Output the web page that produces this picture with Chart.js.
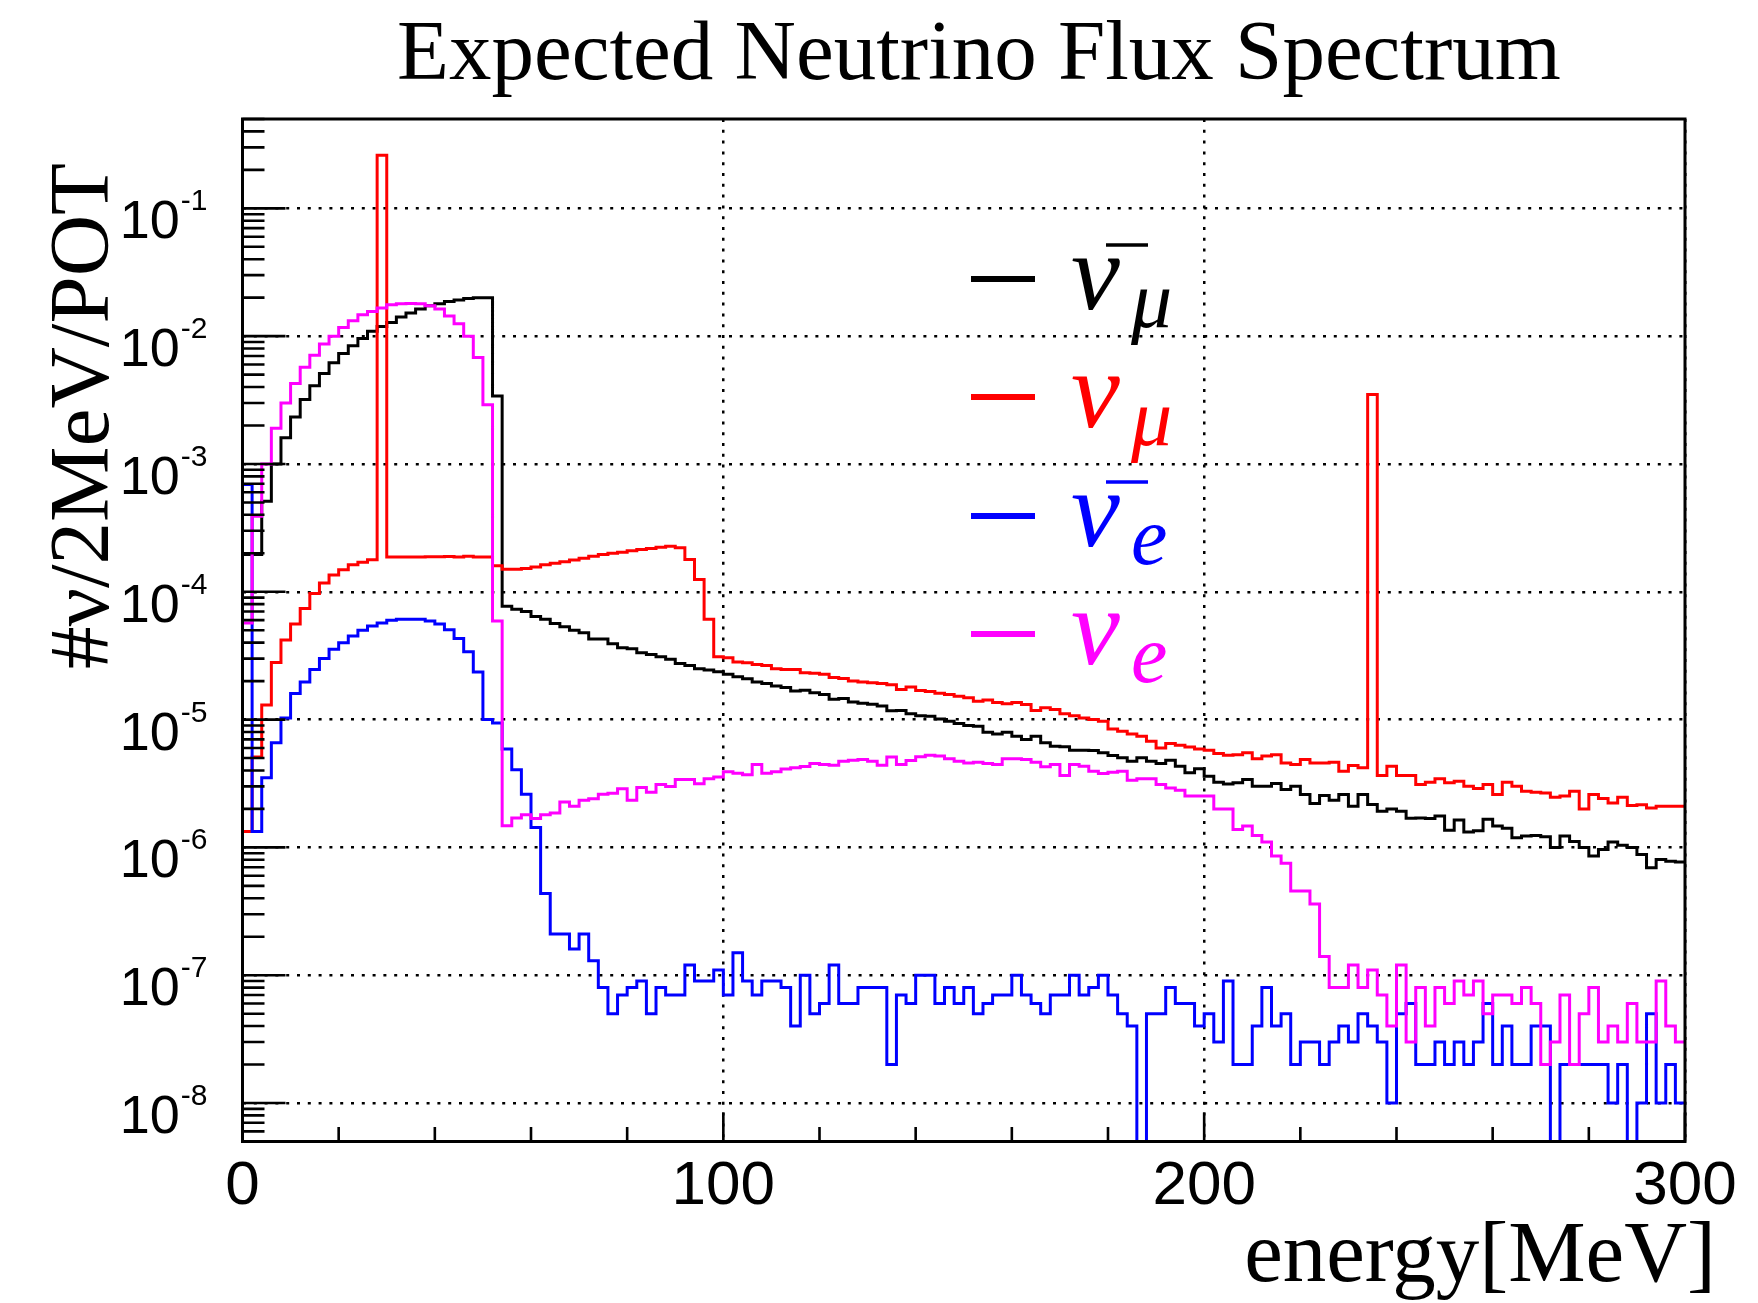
<!DOCTYPE html>
<html>
<head>
<meta charset="utf-8">
<script src="https://cdn.jsdelivr.net/npm/chart.js@4.4.0/dist/chart.umd.min.js"></script>
<style>
html,body{margin:0;padding:0;background:#ffffff;}
canvas{display:block;}
</style>
</head>
<body>
<canvas id="c" width="1758" height="1303"></canvas>
<script>
// ---------------- data ----------------
const binWidth = 2; // MeV per bin, bins start at 0 MeV
const chartTitle = 'Expected Neutrino Flux Spectrum';
const xAxisTitle = 'energy[MeV]';
const yAxisTitle = '#\u03BD/2MeV/POT';
const xTickValues = [0, 100, 200, 300];
const yTickExponents = [-8, -7, -6, -5, -4, -3, -2, -1];
const yMin = 5e-9;
const yMax = 0.5;

const seriesLabels = ['\u03BD\u0304\u03BC', '\u03BD\u03BC', '\u03BD\u0304e', '\u03BDe'];
const seriesSub = ['\u03BC', '\u03BC', 'e', 'e'];
const seriesBar = [true, false, true, false];
const seriesColors = ['#000000', '#ff0000', '#0000ff', '#ff00ff'];

// anti nu_mu (black)
const numuBar = [
 1.96e-4, 1.96e-4, 5.1e-4, 1.0e-3, 1.6e-3, 2.33e-3, 3.2e-3, 4.1e-3, 5.1e-3, 6.2e-3,
 7.3e-3, 8.4e-3, 9.6e-3, 1.09e-2, 1.19e-2, 1.28e-2, 1.41e-2, 1.52e-2, 1.63e-2, 1.73e-2,
 1.79e-2, 1.87e-2, 1.92e-2, 1.97e-2, 2.0e-2, 2.0e-2, 3.4e-3, 7.7e-5, 7.3e-5, 7.0e-5,
 6.4e-5, 6.1e-5, 5.65e-5, 5.32e-5, 5.0e-5, 4.78e-5, 4.28e-5, 4.28e-5, 3.92e-5, 3.65e-5,
 3.58e-5, 3.33e-5, 3.23e-5, 3.1e-5, 2.96e-5, 2.75e-5, 2.65e-5, 2.5e-5, 2.44e-5, 2.37e-5,
 2.26e-5, 2.16e-5, 2.09e-5, 1.97e-5, 1.92e-5, 1.83e-5, 1.78e-5, 1.67e-5, 1.7e-5, 1.62e-5,
 1.57e-5, 1.44e-5, 1.46e-5, 1.37e-5, 1.34e-5, 1.32e-5, 1.28e-5, 1.17e-5, 1.18e-5, 1.11e-5,
 1.07e-5, 1.06e-5, 1.01e-5, 9.7e-6, 9.3e-6, 8.98e-6, 8.87e-6, 7.96e-6, 7.73e-6, 7.96e-6,
 7.41e-6, 6.98e-6, 7.41e-6, 6.58e-6, 6.19e-6, 6.12e-6, 5.75e-6, 5.75e-6, 5.72e-6, 5.5e-6,
 5.23e-6, 5.02e-6, 4.72e-6, 5.02e-6, 4.72e-6, 4.53e-6, 4.81e-6, 4.32e-6, 3.83e-6, 4.12e-6,
 3.61e-6, 3.24e-6, 3.14e-6, 3.2e-6, 3.4e-6, 3.01e-6, 3.01e-6, 3.16e-6, 2.84e-6, 3.01e-6,
 2.59e-6, 2.21e-6, 2.55e-6, 2.34e-6, 2.59e-6, 2.1e-6, 2.59e-6, 2.17e-6, 1.92e-6, 2.0e-6,
 1.92e-6, 1.69e-6, 1.7e-6, 1.68e-6, 1.76e-6, 1.36e-6, 1.64e-6, 1.32e-6, 1.35e-6, 1.66e-6,
 1.47e-6, 1.41e-6, 1.19e-6, 1.23e-6, 1.24e-6, 1.21e-6, 1.0e-6, 1.23e-6, 1.11e-6, 1.0e-6,
 8.55e-7, 9.64e-7, 1.1e-6, 1.04e-6, 1.0e-6, 8.8e-7, 6.93e-7, 8.05e-7, 7.8e-7, 7.67e-7
];

// nu_mu (red)
const numu = [
 1.33e-6, 5.1e-6, 1.3e-5, 2.8e-5, 4.2e-5, 5.6e-5, 7.4e-5, 9.7e-5, 1.17e-4, 1.35e-4,
 1.49e-4, 1.63e-4, 1.7e-4, 1.78e-4, 0.26, 1.87e-4, 1.87e-4, 1.87e-4, 1.87e-4, 1.88e-4,
 1.88e-4, 1.89e-4, 1.87e-4, 1.9e-4, 1.87e-4, 1.87e-4, 1.6e-4, 1.5e-4, 1.5e-4, 1.52e-4,
 1.56e-4, 1.63e-4, 1.67e-4, 1.72e-4, 1.77e-4, 1.83e-4, 1.9e-4, 1.96e-4, 2.0e-4, 2.04e-4,
 2.09e-4, 2.14e-4, 2.18e-4, 2.23e-4, 2.27e-4, 2.21e-4, 1.79e-4, 1.25e-4, 6.1e-5, 3.1e-5,
 3.05e-5, 2.82e-5, 2.79e-5, 2.7e-5, 2.65e-5, 2.5e-5, 2.46e-5, 2.46e-5, 2.32e-5, 2.3e-5,
 2.26e-5, 2.13e-5, 2.1e-5, 2.0e-5, 1.97e-5, 1.94e-5, 1.92e-5, 1.87e-5, 1.72e-5, 1.8e-5,
 1.69e-5, 1.66e-5, 1.61e-5, 1.57e-5, 1.52e-5, 1.48e-5, 1.39e-5, 1.42e-5, 1.36e-5, 1.33e-5,
 1.36e-5, 1.31e-5, 1.18e-5, 1.24e-5, 1.2e-5, 1.11e-5, 1.07e-5, 1.03e-5, 1.0e-5, 9.7e-6,
 8.45e-6, 8.1e-6, 7.73e-6, 7.41e-6, 6.78e-6, 6.0e-6, 6.5e-6, 6.3e-6, 6.1e-6, 5.9e-6,
 5.75e-6, 5.42e-6, 5.26e-6, 5.3e-6, 5.5e-6, 4.93e-6, 5.18e-6, 5.3e-6, 4.58e-6, 4.45e-6,
 4.87e-6, 4.58e-6, 4.58e-6, 4.63e-6, 3.95e-6, 4.37e-6, 4.19e-6, 3.5e-3, 3.65e-6, 4.32e-6,
 3.65e-6, 3.65e-6, 3.1e-6, 3.24e-6, 3.44e-6, 3.2e-6, 3.3e-6, 3.01e-6, 2.89e-6, 3.1e-6,
 2.59e-6, 3.24e-6, 3.01e-6, 2.75e-6, 2.7e-6, 2.67e-6, 2.47e-6, 2.52e-6, 2.75e-6, 2.0e-6,
 2.59e-6, 2.41e-6, 2.23e-6, 2.47e-6, 2.13e-6, 2.16e-6, 2.03e-6, 2.1e-6, 2.1e-6, 2.1e-6
];

// anti nu_e (blue)
const nueBar = [
 6.9e-4, 1.33e-6, 3.5e-6, 6.6e-6, 1.03e-5, 1.6e-5, 1.97e-5, 2.46e-5, 3.0e-5, 3.55e-5,
 4.0e-5, 4.5e-5, 5.0e-5, 5.4e-5, 5.7e-5, 6.0e-5, 6.1e-5, 6.1e-5, 6.1e-5, 5.9e-5,
 5.6e-5, 5.05e-5, 4.3e-5, 3.4e-5, 2.36e-5, 1.0e-5, 9.4e-6, 5.9e-6, 4.05e-6, 2.6e-6,
 1.43e-6, 4.35e-7, 2.1e-7, 2.1e-7, 1.6e-7, 2.1e-7, 1.3e-7, 8e-8, 5e-8, 7e-8,
 8e-8, 9e-8, 5e-8, 8e-8, 7e-8, 7e-8, 1.2e-7, 9e-8, 9e-8, 1.1e-7,
 7e-8, 1.5e-7, 9e-8, 7e-8, 9e-8, 9e-8, 8e-8, 4e-8, 1e-7, 5e-8,
 6e-8, 1.2e-7, 6e-8, 6e-8, 8e-8, 8e-8, 8e-8, 2e-8, 7e-8, 6e-8,
 1e-7, 1e-7, 6e-8, 8e-8, 6e-8, 8e-8, 5e-8, 6e-8, 7e-8, 7e-8,
 1e-7, 7e-8, 6e-8, 5e-8, 7e-8, 7e-8, 1e-7, 7e-8, 8e-8, 1e-7,
 7e-8, 5e-8, 4e-8, 0, 5e-8, 5e-8, 8e-8, 6e-8, 6e-8, 4e-8,
 5e-8, 3e-8, 9e-8, 2e-8, 2e-8, 4e-8, 8e-8, 4e-8, 5e-8, 2e-8,
 3e-8, 3e-8, 2e-8, 3e-8, 4e-8, 3e-8, 5e-8, 4e-8, 3e-8, 1e-8,
 5e-8, 6e-8, 2e-8, 2e-8, 3e-8, 2e-8, 3e-8, 2e-8, 3e-8, 6e-8,
 2e-8, 4e-8, 2e-8, 2e-8, 4e-8, 4e-8, 0, 2e-8, 2e-8, 2e-8,
 2e-8, 2e-8, 1e-8, 2e-8, 0, 1e-8, 5e-8, 1e-8, 2e-8, 1e-8
];

// nu_e (magenta)
const nue = [
 5.7e-5, 3.9e-4, 1.0e-3, 1.9e-3, 3.0e-3, 4.26e-3, 5.7e-3, 7.1e-3, 8.7e-3, 1.0e-2,
 1.17e-2, 1.32e-2, 1.47e-2, 1.56e-2, 1.66e-2, 1.76e-2, 1.79e-2, 1.8e-2, 1.79e-2, 1.73e-2,
 1.63e-2, 1.44e-2, 1.25e-2, 1.0e-2, 6.8e-3, 2.9e-3, 5.9e-5, 1.48e-6, 1.7e-6, 1.8e-6,
 1.68e-6, 1.8e-6, 1.86e-6, 2.27e-6, 2.1e-6, 2.34e-6, 2.4e-6, 2.6e-6, 2.65e-6, 2.88e-6,
 2.34e-6, 2.94e-6, 2.7e-6, 3.11e-6, 3.0e-6, 3.4e-6, 3.4e-6, 3.15e-6, 3.45e-6, 3.55e-6,
 3.9e-6, 3.8e-6, 3.7e-6, 4.45e-6, 3.8e-6, 3.9e-6, 4.1e-6, 4.2e-6, 4.3e-6, 4.54e-6,
 4.45e-6, 4.4e-6, 4.73e-6, 4.8e-6, 4.87e-6, 4.73e-6, 4.4e-6, 5.1e-6, 4.45e-6, 4.78e-6,
 5.11e-6, 5.26e-6, 5.18e-6, 4.93e-6, 4.72e-6, 4.58e-6, 4.63e-6, 4.53e-6, 4.45e-6, 4.93e-6,
 4.93e-6, 4.87e-6, 4.63e-6, 4.27e-6, 4.45e-6, 3.65e-6, 4.45e-6, 4.32e-6, 3.95e-6, 3.79e-6,
 3.88e-6, 3.95e-6, 3.36e-6, 3.44e-6, 3.44e-6, 3.1e-6, 2.92e-6, 2.8e-6, 2.52e-6, 2.52e-6,
 2.52e-6, 2.0e-6, 2.0e-6, 1.38e-6, 1.47e-6, 1.24e-6, 1.1e-6, 8.56e-7, 7.5e-7, 4.56e-7,
 4.56e-7, 3.6e-7, 1.4e-7, 8e-8, 8e-8, 1.2e-7, 8e-8, 1.1e-7, 7e-8, 4e-8,
 1.2e-7, 3e-8, 8e-8, 4e-8, 8e-8, 6e-8, 9e-8, 7e-8, 9e-8, 5e-8,
 7e-8, 7e-8, 6e-8, 8e-8, 6e-8, 2e-8, 3e-8, 7e-8, 2e-8, 5e-8,
 8e-8, 3e-8, 4e-8, 3e-8, 6e-8, 3e-8, 3e-8, 9e-8, 4e-8, 3e-8
];

const seriesValues = [numuBar, numu, nueBar, nue];

// ---------------- build step outlines ----------------
function toSteps(vals) {
  // empty bins (0) are drawn at the bottom of the log frame, like ROOT
  const pts = vals.map((v, i) => ({ x: i * binWidth, y: v > 0 ? v : yMin }));
  const last = vals[vals.length - 1];
  pts.push({ x: vals.length * binWidth, y: last > 0 ? last : yMin });
  return pts;
}

const datasets = seriesValues.map((vals, k) => ({
  label: seriesLabels[k],
  data: toSteps(vals),
  borderColor: seriesColors[k],
  backgroundColor: seriesColors[k],
  borderWidth: 3,
  pointRadius: 0,
  pointHoverRadius: 0,
  stepped: true,
  tension: 0,
  fill: false,
  order: 4 - k
}));

// ---------------- decoration plugin (ROOT style) ----------------
const SANS = '"Liberation Sans", Arial, Helvetica, sans-serif';
const SERIF = '"Liberation Serif", "Times New Roman", serif';

const rootDecor = {
  id: 'rootDecor',
  afterDatasetsDraw(chart) {
    const { ctx, chartArea: a, scales } = chart;
    const xs = scales.x, ys = scales.y;
    ctx.save();

    // frame
    ctx.strokeStyle = '#000';
    ctx.lineWidth = 3;
    ctx.setLineDash([]);
    ctx.strokeRect(a.left, a.top, a.right - a.left, a.bottom - a.top);

    // inner tick marks
    ctx.lineWidth = 2.6;
    ctx.beginPath();
    for (let e = -9; e <= 0; e++) {
      for (let m = 1; m <= 9; m++) {
        const v = m * Math.pow(10, e);
        if (v < yMin * 0.999 || v > yMax * 1.001) continue;
        const py = ys.getPixelForValue(v);
        const len = m === 1 ? 43 : 22;
        ctx.moveTo(a.left, py);
        ctx.lineTo(a.left + len, py);
      }
    }
    for (let t = xs.min; t <= xs.max; t += 20) {
      const px = xs.getPixelForValue(t);
      const len = t % 100 === 0 ? 29 : 14.5;
      ctx.moveTo(px, a.bottom);
      ctx.lineTo(px, a.bottom - len);
    }
    ctx.stroke();

    ctx.fillStyle = '#000';
    // x tick labels
    ctx.font = '62px ' + SANS;
    ctx.textAlign = 'center';
    ctx.textBaseline = 'alphabetic';
    xTickValues.forEach(v => {
      ctx.fillText(String(v), xs.getPixelForValue(v), a.bottom + 62);
    });

    // y tick labels 10^n
    const rightEdge = a.left - 35;
    yTickExponents.forEach(e => {
      const py = ys.getPixelForValue(Math.pow(10, e));
      const expText = String(e);
      ctx.font = '30px ' + SANS;
      const ew = ctx.measureText(expText).width;
      ctx.textAlign = 'left';
      ctx.fillText(expText, rightEdge - ew, py + 2);
      ctx.font = '54px ' + SANS;
      ctx.textAlign = 'right';
      ctx.fillText('10', rightEdge - ew - 1, py + 30);
    });

    // title
    ctx.font = '85px ' + SERIF;
    ctx.textAlign = 'center';
    ctx.fillText(chartTitle, 979, 79);

    // x axis title
    ctx.font = '87px ' + SERIF;
    ctx.textAlign = 'right';
    ctx.fillText(xAxisTitle, 1716, 1281);

    // y axis title (rotated)
    ctx.save();
    ctx.translate(108, a.top + 44);
    ctx.rotate(-Math.PI / 2);
    ctx.font = '85px ' + SERIF;
    ctx.textAlign = 'right';
    ctx.fillText(yAxisTitle, 0, 0);
    ctx.restore();

    // legend
    const legendLineY = [279, 397, 516, 634];
    seriesColors.forEach((col, k) => {
      const ly = legendLineY[k];
      ctx.strokeStyle = col;
      ctx.fillStyle = col;
      ctx.lineWidth = 6;
      ctx.beginPath();
      ctx.moveTo(971, ly);
      ctx.lineTo(1035, ly);
      ctx.stroke();
      const base = ly + 30;
      ctx.font = 'italic 110px ' + SERIF;
      ctx.textAlign = 'left';
      ctx.fillText('\u03BD', 1071, base);
      if (seriesBar[k]) {
        ctx.lineWidth = 3.5;
        ctx.beginPath();
        ctx.moveTo(1106, base - 64);
        ctx.lineTo(1148, base - 64);
        ctx.stroke();
      }
      ctx.font = 'italic 82px ' + SERIF;
      ctx.fillText(seriesSub[k], 1131, base + 18);
    });

    ctx.restore();
  }
};

new Chart(document.getElementById('c'), {
  type: 'line',
  data: { datasets },
  options: {
    responsive: false,
    devicePixelRatio: 1,
    animation: false,
    events: [],
    layout: { padding: { left: 242.5, right: 73, top: 119, bottom: 161.5 } },
    plugins: {
      legend: { display: false },
      title: { display: false },
      tooltip: { enabled: false }
    },
    scales: {
      x: {
        type: 'linear',
        min: 0,
        max: 300,
        ticks: { display: false, stepSize: 100 },
        grid: { color: '#000', lineWidth: 2.5, drawTicks: false },
        border: { display: false, dash: [3, 7.8] }
      },
      y: {
        type: 'logarithmic',
        min: yMin,
        max: yMax,
        ticks: { display: false },
        afterBuildTicks: (scale) => {
          scale.ticks = yTickExponents.map(e => ({ value: Math.pow(10, e) }));
        },
        grid: { color: '#000', lineWidth: 2.5, drawTicks: false },
        border: { display: false, dash: [3, 7.8] }
      }
    }
  },
  plugins: [rootDecor]
});
</script>
</body>
</html>
